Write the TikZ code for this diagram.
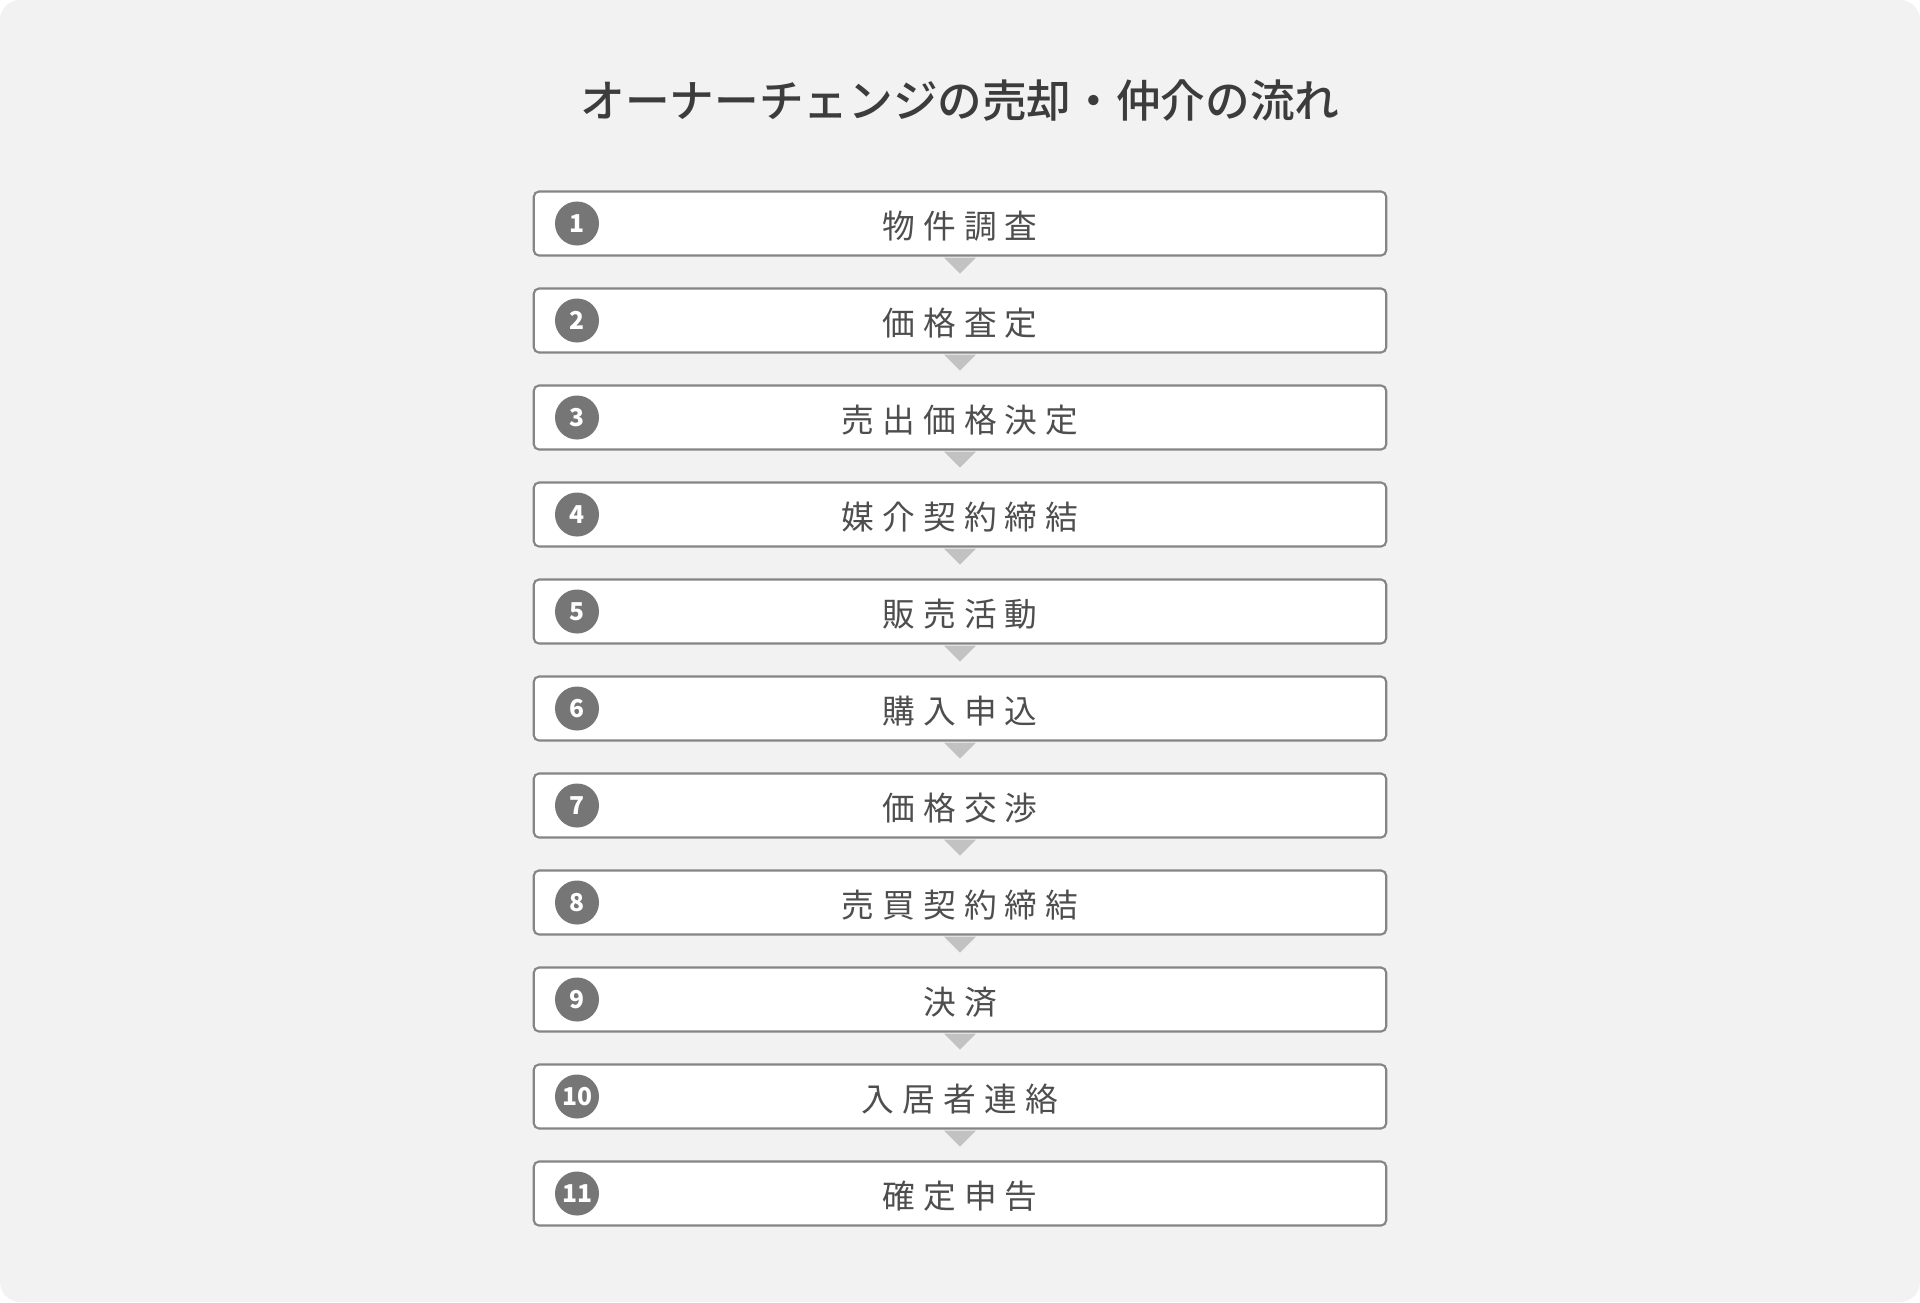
\documentclass[tikz,border=0pt]{standalone}
\usepackage{fontspec}
\usepackage{tikz}
\usetikzlibrary{calc,shapes}
\usepackage{xcolor}
\setmainfont{Noto Sans CJK JP}
\newfontfamily\stepfont[LetterSpace=25]{Noto Sans CJK JP}
\newfontfamily\titlefont{Noto Sans CJK JP Medium}
\definecolor{bggray}{HTML}{F2F2F2}
\definecolor{boxline}{HTML}{858585}
\definecolor{numgray}{HTML}{767676}
\definecolor{trigray}{HTML}{C2C2C2}
\definecolor{steptext}{HTML}{4E4E4E}
\definecolor{titletext}{HTML}{3C3C3C}
\begin{document}
\begin{tikzpicture}[x=0.01cm, y=-0.01cm, flow box/.style={draw=boxline, line width=0.6pt, fill=white, rounded corners=1.5pt, minimum width=8.52cm, minimum height=0.64cm, inner sep=0pt, text height=9.5pt, text depth=1pt, font=\stepfont\fontsize{9.3}{11}\selectfont, text=steptext}, num node/.style={circle, fill=numgray, text=white, minimum size=0.44cm, inner sep=0pt, font=\bfseries\fontsize{7}{8}\selectfont}, tri/.style={fill=trigray}]
\useasboundingbox (0,0) rectangle (1920,1302);
\fill[white] (0,0) rectangle (1920,1302);
\fill[bggray, rounded corners=5.7pt] (0,0) rectangle (1920,1302);
\node[text=titletext, font=\titlefont\fontsize{12.7}{15}\selectfont] (title) at (960,101) {オーナーチェンジの売却・仲介の流れ};
\node[flow box] (1) at (960,223.5) {物件調査};
\node[flow box] (2) at (960,320.5) {価格査定};
\node[flow box] (3) at (960,417.5) {売出価格決定};
\node[flow box] (4) at (960,514.5) {媒介契約締結};
\node[flow box] (5) at (960,611.5) {販売活動};
\node[flow box] (6) at (960,708.5) {購入申込};
\node[flow box] (7) at (960,805.5) {価格交渉};
\node[flow box] (8) at (960,902.5) {売買契約締結};
\node[flow box] (9) at (960,999.5) {決済};
\node[flow box] (10) at (960,1096.5) {入居者連絡};
\node[flow box] (11) at (960,1193.5) {確定申告};
\node[num node] (n1) at (577,223.5) {1};
\node[num node] (n2) at (577,320.5) {2};
\node[num node] (n3) at (577,417.5) {3};
\node[num node] (n4) at (577,514.5) {4};
\node[num node] (n5) at (577,611.5) {5};
\node[num node] (n6) at (577,708.5) {6};
\node[num node] (n7) at (577,805.5) {7};
\node[num node] (n8) at (577,902.5) {8};
\node[num node] (n9) at (577,999.5) {9};
\node[num node] (n10) at (577,1096.5) {10};
\node[num node] (n11) at (577,1193.5) {11};
% pointers between steps
\foreach \i in {1,...,10}
  \fill[tri] ($(\i.south)+(-16,1)$) -- ($(\i.south)+(16,1)$) -- ($(\i.south)+(0,17)$) -- cycle;
\end{tikzpicture}
\end{document}
